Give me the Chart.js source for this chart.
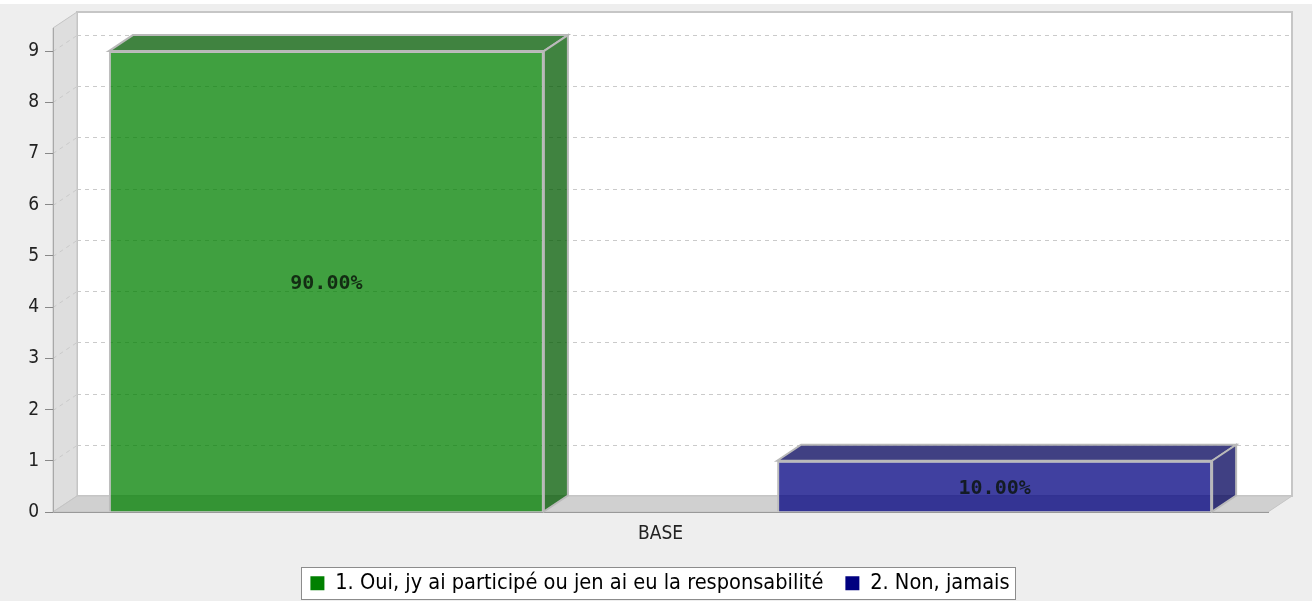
<!DOCTYPE html>
<html>
<head>
<meta charset="utf-8">
<script src="https://cdn.jsdelivr.net/npm/chart.js@4.4.1/dist/chart.umd.min.js"></script>
<style>
html, body { margin: 0; padding: 0; background: #eeeeee; }
canvas { display: block; }
</style>
</head>
<body>
<canvas id="barChart" width="1312" height="601"></canvas>
<script>
// data
const categories = ['BASE'];
const seriesNames = ['1. Oui, jy ai participé ou jen ai eu la responsabilité', '2. Non, jamais'];
const seriesValues = [[9], [1]];
const seriesFill = ['rgba(0, 128, 0, 0.75)', 'rgba(0, 0, 128, 0.75)'];
const seriesDark = ['rgba(0, 89, 0, 0.75)', 'rgba(0, 0, 89, 0.75)'];
const legendColors = ['#008000', '#000080'];
const yMax = 9.45;

const DX = 24, DY = 16;   // 3d depth
const LEGEND_SHIFT = 26;
const FONT = 'DejaVu Sans Condensed';

function poly(ctx, pts, fill, stroke, lw) {
    ctx.beginPath();
    ctx.moveTo(pts[0][0], pts[0][1]);
    for (let i = 1; i < pts.length; i++) ctx.lineTo(pts[i][0], pts[i][1]);
    ctx.closePath();
    if (fill) { ctx.fillStyle = fill; ctx.fill(); }
    if (stroke) { ctx.strokeStyle = stroke; ctx.lineWidth = lw || 1; ctx.stroke(); }
}

const box3d = {
    id: 'box3d',
    afterLayout(chart) {
        // legend sits a bit right of centre in the original
        if (chart.legend) {
            chart.legend.left += LEGEND_SHIFT;
            chart.legend.right += LEGEND_SHIFT;
        }
    },
    beforeDraw(chart) {
        const ctx = chart.ctx;
        const { left: L, right: R, top: T, bottom: B } = chart.chartArea;
        ctx.save();
        ctx.fillStyle = '#eeeeee';
        ctx.fillRect(0, 0, chart.width, chart.height);
        ctx.fillStyle = '#ffffff';
        ctx.fillRect(0, 0, chart.width, 4);

        // back plane
        ctx.fillStyle = '#ffffff';
        ctx.fillRect(L + DX, T - DY, R - L, B - T);
        ctx.strokeStyle = '#c6c6c6';
        ctx.lineWidth = 2;
        ctx.strokeRect(L + DX, T - DY, R - L, B - T);

        // left wall and floor
        poly(ctx, [[L, T], [L + DX, T - DY], [L + DX, B - DY], [L, B]], '#dedede', '#c4c4c4', 1);
        poly(ctx, [[L, B], [L + DX, B - DY], [R + DX, B - DY], [R, B]], '#d0d0d0', '#c4c4c4', 1);

        // gridlines on back plane and wall
        const ys = chart.scales.y;
        ctx.setLineDash([4, 4]);
        ctx.lineWidth = 1;
        ctx.strokeStyle = '#cacaca';
        ys.ticks.forEach(t => {
            if (t.value === 0) return;
            const y = Math.round(ys.getPixelForValue(t.value)) + 0.5;
            ctx.beginPath();
            ctx.moveTo(L + DX, y - DY);
            ctx.lineTo(R + DX, y - DY);
            ctx.moveTo(L, y);
            ctx.lineTo(L + DX, y - DY);
            ctx.stroke();
        });
        ctx.setLineDash([]);

        // legend frame
        const lg = chart.legend;
        if (lg && lg.legendHitBoxes && lg.legendHitBoxes.length) {
            const hb = lg.legendHitBoxes;
            const last = hb[hb.length - 1];
            const x1 = hb[0].left - 9;
            const x2 = last.left + last.width + 6;
            const y1 = hb[0].top - 5;
            const y2 = hb[0].top + hb[0].height + 5;
            ctx.fillStyle = '#ffffff';
            ctx.fillRect(x1, y1, x2 - x1, y2 - y1);
            ctx.strokeStyle = '#8c8c8c';
            ctx.lineWidth = 1;
            ctx.strokeRect(Math.round(x1) + 0.5, Math.round(y1) + 0.5, Math.round(x2 - x1), Math.round(y2 - y1));
        }
        ctx.restore();
    },
    afterDatasetsDraw(chart) {
        const ctx = chart.ctx;
        let total = 0;
        seriesValues.forEach(s => s.forEach(v => { total += v; }));
        ctx.save();
        chart.data.datasets.forEach((ds, di) => {
            const meta = chart.getDatasetMeta(di);
            meta.data.forEach((bar, i) => {
                const { x, y, base, width } = bar.getProps(['x', 'y', 'base', 'width'], true);
                const x1 = x - width / 2, x2 = x + width / 2;
                poly(ctx, [[x1, y], [x1 + DX, y - DY], [x2 + DX, y - DY], [x2, y]], seriesDark[di], '#b9b9b9', 2);
                poly(ctx, [[x2, y], [x2 + DX, y - DY], [x2 + DX, base - DY], [x2, base]], seriesDark[di], '#b9b9b9', 2);
                const pct = (ds.data[i] / total * 100).toFixed(2) + '%';
                ctx.font = 'bold 20px "DejaVu Sans Mono"';
                ctx.fillStyle = 'rgba(10, 20, 10, 0.82)';
                ctx.textAlign = 'center';
                ctx.textBaseline = 'middle';
                ctx.fillText(pct, x, (y + base) / 2 + 3);
            });
        });
        ctx.restore();
    }
};

const ctx = document.getElementById('barChart').getContext('2d');
new Chart(ctx, {
    type: 'bar',
    data: {
        labels: categories,
        datasets: seriesNames.map((name, i) => ({
            label: name,
            data: seriesValues[i],
            backgroundColor: seriesFill[i],
            borderColor: '#bdbdbd',
            borderWidth: 2
        }))
    },
    options: {
        responsive: false,
        animation: false,
        categoryPercentage: 1.1,
        barPercentage: 0.651,
        layout: { padding: { left: 0, top: 28, right: 44, bottom: -3 } },
        scales: {
            x: {
                grid: { display: false, drawTicks: false },
                border: { display: true, color: '#999999', width: 1 },
                ticks: { color: '#222', font: { family: FONT, size: 19 }, padding: 11 },
                afterFit(scale) { scale.height = 38.4; }
            },
            y: {
                min: 0,
                max: yMax,
                grid: { drawOnChartArea: false, drawTicks: true, tickLength: 8, color: '#888888' },
                border: { display: true, color: '#a8a8a8', width: 1 },
                ticks: { stepSize: 1, includeBounds: false, color: '#222', font: { family: FONT, size: 19 }, padding: 6 },
                afterFit(scale) { scale.width = 53; }
            }
        },
        plugins: {
            title: { display: false },
            tooltip: { enabled: false },
            legend: {
                position: 'bottom',
                labels: {
                    color: '#111',
                    font: { family: FONT, size: 21.6 },
                    boxWidth: 14,
                    boxHeight: 14,
                    padding: 22,
                    generateLabels(chart) {
                        return chart.data.datasets.map((ds, i) => ({
                            text: ds.label,
                            fillStyle: legendColors[i],
                            strokeStyle: legendColors[i],
                            lineWidth: 0,
                            hidden: false,
                            datasetIndex: i
                        }));
                    }
                }
            }
        }
    },
    plugins: [box3d]
});
</script>
</body>
</html>
